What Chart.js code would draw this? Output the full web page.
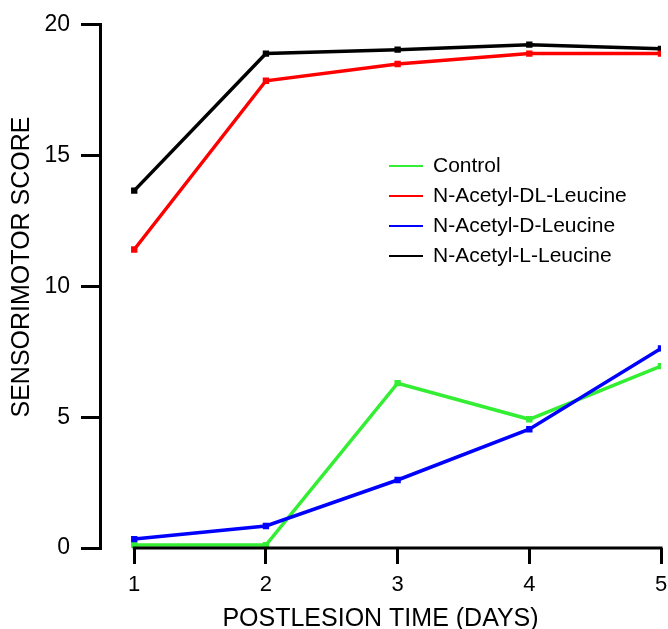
<!DOCTYPE html>
<html>
<head>
<meta charset="utf-8">
<script src="https://cdn.jsdelivr.net/npm/chart.js@4"></script>
<style>
  body { margin: 0; background: #fff; }
  canvas { display: block; }
</style>
</head>
<body>
<canvas id="sensoChart" width="668" height="629"></canvas>
<script>
// days after lesion
var days = [1, 2, 3, 4, 5];
var yTicks = [0, 5, 10, 15, 20];

// scores
var controlScore = [0.11, 0.11, 6.3, 4.92, 6.95];
var dlScore = [11.41, 17.86, 18.5, 18.9, 18.9];
var dScore = [0.34, 0.84, 2.6, 4.54, 7.63];
var lScore = [13.66, 18.9, 19.05, 19.24, 19.08];

var seriesNames = ["Control", "N-Acetyl-DL-Leucine", "N-Acetyl-D-Leucine", "N-Acetyl-L-Leucine"];
var seriesColors = ["#33ee33", "#ff0000", "#0000ff", "#000000"];
var seriesValues = [controlScore, dlScore, dScore, lScore];
var seriesOrder = [1, 1, 0, 1];

var yTitle = "SENSORIMOTOR SCORE";
var fontName = "'Liberation Sans', Arial, sans-serif";

function makePoints(values) {
    return days.map(function (d, i) { return { x: d, y: values[i] }; });
}

var datasets = seriesNames.map(function (name, i) {
    return {
        label: name,
        data: makePoints(seriesValues[i]),
        borderColor: seriesColors[i],
        backgroundColor: seriesColors[i],
        borderWidth: 3.5,
        pointStyle: "rect",
        pointRadius: 4.5,
        pointBorderWidth: 0,
        order: seriesOrder[i],
        tension: 0
    };
});

// x axis line only runs from day 1 to day 5, like the original
var xAxisLine = {
    id: "xAxisLine",
    afterDraw: function (chart) {
        var ctx = chart.ctx;
        var xs = chart.scales.x;
        var yPix = chart.chartArea.bottom;
        ctx.save();
        ctx.strokeStyle = "#000";
        ctx.lineWidth = 3;
        ctx.beginPath();
        ctx.moveTo(xs.getPixelForValue(days[0]) - 1.5, yPix);
        ctx.lineTo(xs.getPixelForValue(days[days.length - 1]) + 1.5, yPix);
        ctx.stroke();
        ctx.restore();
    }
};

// y title sits a bit above the middle of the axis in the original
var yTitlePlugin = {
    id: "yTitlePlugin",
    afterDraw: function (chart) {
        var ctx = chart.ctx;
        ctx.save();
        ctx.translate(22, 267);
        ctx.rotate(-Math.PI / 2);
        ctx.font = "25px " + fontName;
        ctx.fillStyle = "#000";
        ctx.textAlign = "center";
        ctx.textBaseline = "middle";
        ctx.fillText(yTitle, 0, 0);
        ctx.restore();
    }
};

// legend sits inside the plot
var insideLegend = {
    id: "insideLegend",
    afterDraw: function (chart) {
        var ctx = chart.ctx;
        ctx.save();
        ctx.font = "21px " + fontName;
        ctx.textBaseline = "middle";
        ctx.textAlign = "left";
        chart.data.datasets.forEach(function (ds, i) {
            var y = 166 + i * 30;
            ctx.strokeStyle = ds.borderColor;
            ctx.lineWidth = 2;
            ctx.beginPath();
            ctx.moveTo(389, y);
            ctx.lineTo(423, y);
            ctx.stroke();
            ctx.fillStyle = "#000";
            ctx.fillText(ds.label, 433, y);
        });
        ctx.restore();
    }
};

var ctx = document.getElementById("sensoChart").getContext("2d");
var myChart = new Chart(ctx, {
    type: "line",
    data: { datasets: datasets },
    options: {
        responsive: false,
        animation: false,
        layout: { padding: { top: 24, right: 7, bottom: 0, left: 0 } },
        plugins: {
            legend: { display: false },
            tooltip: { enabled: false }
        },
        scales: {
            x: {
                type: "linear",
                min: 0.74,
                max: 5,
                afterBuildTicks: function (scale) {
                    scale.ticks = days.map(function (d) { return { value: d }; });
                },
                afterFit: function (scale) {
                    scale.height = 81;
                    scale.paddingLeft = 0;
                    scale.paddingRight = 0;
                },
                border: { display: false },
                grid: {
                    drawOnChartArea: false,
                    color: "#000",
                    lineWidth: 3,
                    tickLength: 16
                },
                ticks: {
                    color: "#000",
                    padding: 8,
                    maxRotation: 0,
                    font: { family: fontName, size: 22 }
                },
                title: {
                    display: true,
                    text: "POSTLESION TIME (DAYS)",
                    color: "#000",
                    padding: { top: 0, bottom: 0 },
                    font: { family: fontName, size: 25, lineHeight: 0.8 }
                }
            },
            y: {
                min: 0,
                max: 20,
                afterBuildTicks: function (scale) {
                    scale.ticks = yTicks.map(function (v) { return { value: v }; });
                },
                afterFit: function (scale) {
                    scale.width = 100;
                },
                border: { display: true, color: "#000", width: 3 },
                grid: {
                    drawOnChartArea: false,
                    color: "#000",
                    lineWidth: 3,
                    tickLength: 19
                },
                ticks: {
                    color: "#000",
                    padding: 11,
                    font: { family: fontName, size: 23 }
                }
            }
        }
    },
    plugins: [xAxisLine, yTitlePlugin, insideLegend]
});
</script>
</body>
</html>
